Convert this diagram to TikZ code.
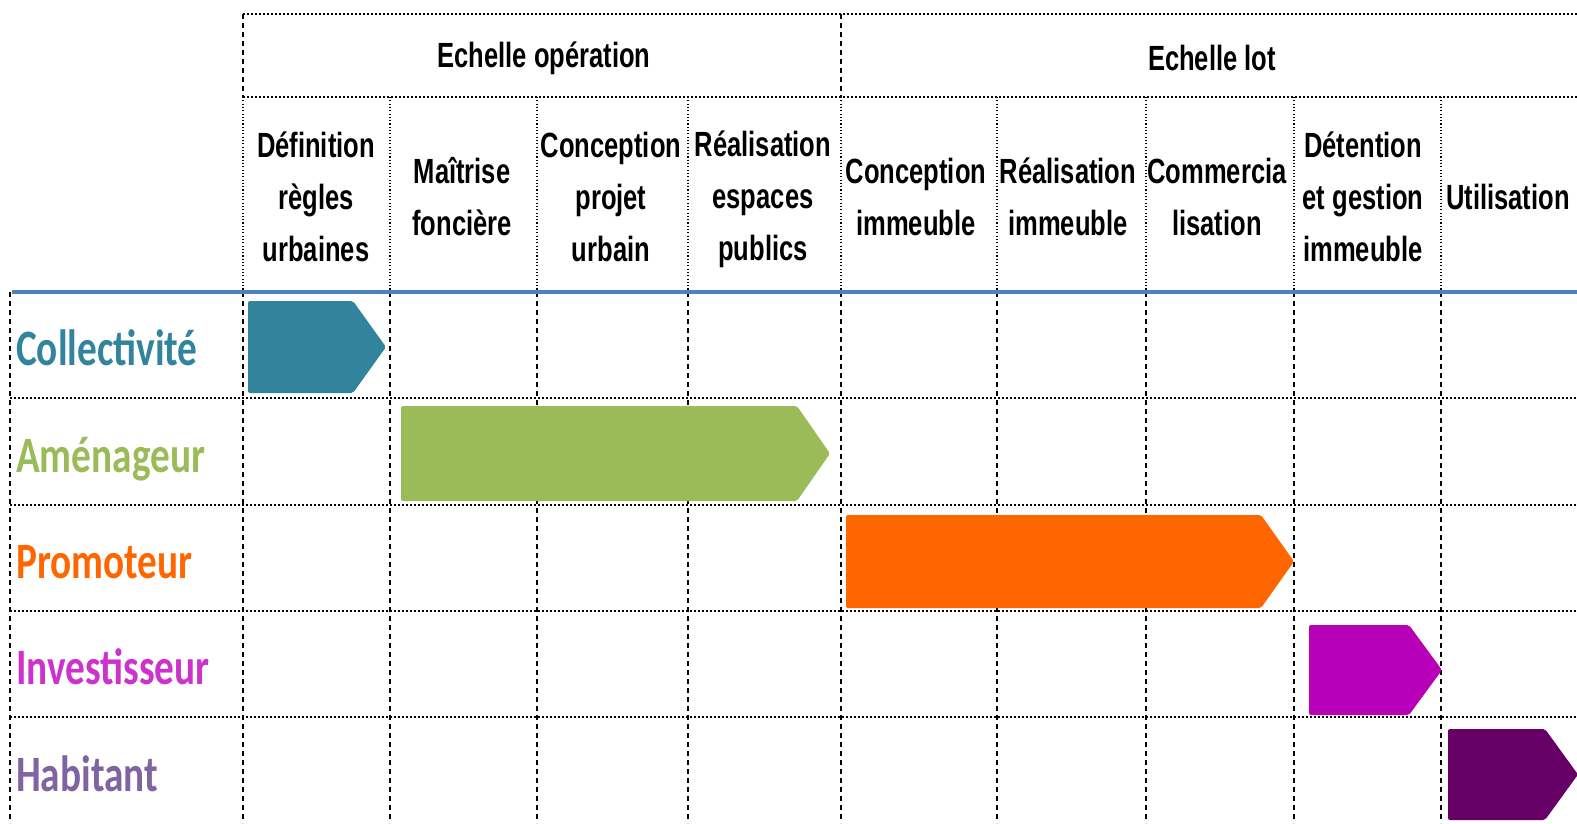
\documentclass[tikz,border=0pt]{standalone}
\usepackage{fontspec}
\newfontfamily\headfont[FakeStretch=0.73]{Liberation Sans}
\newfontfamily\actorfont[FakeStretch=0.77]{Carlito}
\usetikzlibrary{positioning}
\definecolor{collectcol}{HTML}{31849B}
\definecolor{amenagcol}{HTML}{9BBB59}
\definecolor{promocol}{HTML}{FF6600}
\definecolor{investcol}{HTML}{B800B8}
\definecolor{investtxt}{HTML}{CC33CC}
\definecolor{habitcol}{HTML}{660066}
\definecolor{habittxt}{HTML}{8064A2}
\definecolor{bandblue}{HTML}{4F81BD}

\tikzset{
	hline/.style={line width=1.6pt, dash pattern=on 1.6pt off 2.4pt},
	vline/.style={line width=1.3pt, dash pattern=on 5pt off 4pt},
	hdrline/.style={line width=1.1pt, dash pattern=on 1.1pt off 2.2pt},
	phasehead/.style={font=\headfont\bfseries\fontsize{35}{52}\selectfont, align=center, inner sep=0pt},
	actor/.style={font=\actorfont\bfseries\fontsize{51}{60}\selectfont, anchor=base west, inner sep=0pt},
	phasebar/.style={rounded corners=2pt}
}

\begin{document}
\begin{tikzpicture}[x=1pt,y=-1pt]
		\useasboundingbox (0,0) rectangle (1577,823);
		\clip (0,0) rectangle (1577,823);
		% en-tete
		\draw[hline] (243,14) -- (1577,14);
		\draw[hline] (243,97) -- (1577,97);
		\draw[vline] (243,14) -- (243,97);
		\draw[vline] (841,14) -- (841,97);
		\foreach \x in {243,390,537,688,841,997,1146,1294,1441}
		\draw[hdrline] (\x,97) -- (\x,292);
		\node[phasehead] (echop) at (544,58) {Echelle opération};
		\node[phasehead] (echlot) at (1212,58) {Echelle lot};
		\node[phasehead] (regles) at (316,197) {Définition\\règles\\urbaines};
		\node[phasehead] (fonciere) at (462,197) {Maîtrise\\foncière};
		\node[phasehead] (projet) at (611,197) {Conception\\projet\\urbain};
		\node[phasehead] (espaces) at (763,199) {Réalisation\\espaces\\publics};
		\node[phasehead] (concimm) at (916,197) {Conception\\immeuble};
		\node[phasehead] (realimm) at (1068,197) {Réalisation\\immeuble};
		\node[phasehead] (commerc) at (1217,197) {Commercia\\lisation};
		\node[phasehead] (detention) at (1363,197) {Détention\\et gestion\\immeuble};
		\node[phasehead] (utilis) at (1508,197) {Utilisation};
		% grille des acteurs
		\foreach \x in {10,243,390,537,688,841,997,1146,1294,1441}
		\draw[vline] (\x,292) -- (\x,823);
		\foreach \y in {398,505,611,717}
		\draw[hline] (10,\y) -- (1577,\y);
		\draw[bandblue, line width=4pt] (12,292) -- (1577,292);
		% fleches
		\foreach \xa/\xb/\yt/\yb/\col in {248/386/301/393/collectcol, 401/830/406/501/amenagcol,
			846/1294/515/608/promocol, 1309/1442/625/715/investcol, 1448/1578/729/820/habitcol}
		\fill[phasebar, \col] (\xa,\yt) -- (\xb-33,\yt) -- (\xb,{(\yt+\yb)/2}) -- (\xb-33,\yb) -- (\xa,\yb) -- cycle;
		\node[actor, text=collectcol] (collect) at (16,365) {Collectivité};
		\node[actor, text=amenagcol] (amenag) at (16,472) {Aménageur};
		\node[actor, text=promocol] (promo) at (16,578) {Promoteur};
		\node[actor, text=investtxt] (invest) at (16,684) {Investisseur};
		\node[actor, text=habittxt] (habit) at (16,791) {Habitant};
	\end{tikzpicture}
\end{document}
